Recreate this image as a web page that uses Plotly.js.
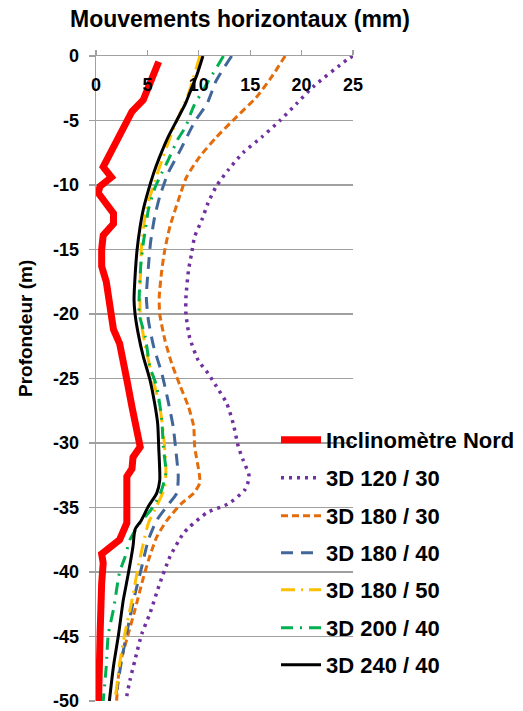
<!DOCTYPE html>
<html>
<head>
<meta charset="utf-8">
<script src="https://cdn.plot.ly/plotly-3.0.1.min.js"></script>
<style>html,body{margin:0;padding:0;background:#fff;}#chart{width:523px;height:711px;}</style>
</head>
<body>
<div id="chart"></div>
<script>
// Series names
const seriesNames = ["Inclinomètre Nord", "3D 120 / 30", "3D 180 / 30", "3D 180 / 40", "3D 180 / 50", "3D 200 / 40", "3D 240 / 40"];

// Inclinomètre Nord
const inclinoDepth = [-0.45,-1.9,-3.4,-4.3,-5.5,-6.8,-7.8,-8.6,-9.4,-10.1,-10.6,-11.4,-12.2,-13.0,-13.9,-15.0,-16.3,-17.5,-18.8,-21.2,-22.3,-23.3,-25.1,-27.2,-29.0,-30.3,-31.1,-32.0,-32.6,-34.2,-35.4,-36.2,-37.5,-38.2,-38.6,-39.3,-40.9,-44.8,-47.4,-50];
const inclinoMove  = [6.1,5.4,4.6,3.5,2.7,2.0,1.2,0.7,1.5,0.4,0.2,1.0,1.7,1.7,0.7,0.55,0.55,1.0,1.3,1.7,2.3,2.5,3.0,3.5,4.0,4.3,3.6,3.5,3.0,3.0,3.1,3.0,2.3,1.0,0.55,0.7,0.55,0.4,0.25,0.25];

// 3D 120 / 30
const d120_30 = [0,-0.3,-2.4,-3.7,-5.0,-6.3,-7.5,-8.8,-10.1,-11.4,-12.7,-14.0,-15.3,-16.6,-18.7,-20.0,-21.8,-23.6,-24.6,-25.6,-26.9,-28.5,-30.3,-31.3,-32.6,-33.6,-34.7,-35.4,-36.5,-37.0,-38.8,-40.9,-43.2,-44.8,-46.8,-48.4,-50];
const m120_30 = [25.0,24.4,21.1,19.5,17.9,16.1,14.3,12.9,11.7,10.9,10.3,9.6,9.3,9.0,8.75,8.75,9.1,9.95,10.9,11.7,12.7,13.35,13.85,14.3,14.9,14.5,12.9,10.8,9.1,8.5,7.2,6.2,5.25,4.45,3.8,3.3,2.9];

// 3D 180 / 30
const d180_30 = [0,-1.6,-3.2,-4.7,-6.3,-7.8,-9.4,-11.2,-13.2,-15.0,-16.6,-18.7,-20.0,-22.0,-23.8,-25.6,-27.2,-28.7,-30.3,-32.4,-33.1,-33.9,-34.7,-36.0,-37.3,-39.1,-40.9,-42.9,-45.2,-47.3,-50];
const m180_30 = [18.4,17.1,15.6,13.7,11.7,10.1,8.8,8.0,7.2,6.7,6.4,6.15,6.2,6.7,7.35,8.2,9.0,9.5,9.6,10.05,10.1,9.5,8.3,6.9,5.9,5.1,4.45,3.8,3.0,2.3,2.0];

// 3D 180 / 40
const d180_40 = [0,-1.9,-3.7,-5.1,-7.3,-9.1,-10.9,-12.5,-14.5,-16.3,-18.7,-20.5,-22.5,-24.6,-26.7,-28.7,-30.8,-32.6,-33.9,-34.9,-36.0,-37.5,-39.6,-41.7,-43.5,-46.8,-50];
const m180_40 = [13.2,11.7,10.8,9.6,8.2,7.0,6.2,5.7,5.3,5.1,4.9,5.1,5.6,6.4,7.0,7.5,7.8,8.0,7.85,6.9,5.9,5.1,4.45,3.8,3.3,2.5,1.85];

// 3D 180 / 50
const d180_50 = [0,-2.9,-5.7,-8.8,-11.9,-14.5,-17.6,-20.0,-22.5,-24.6,-27.2,-29.2,-31.8,-33.4,-34.9,-36.2,-37.8,-39.6,-42.2,-44.8,-47.1,-50];
const m180_50 = [10.1,9.0,7.5,6.1,4.9,4.45,4.3,4.3,4.8,5.4,6.2,6.55,6.8,6.7,5.9,5.1,4.6,4.1,3.5,2.8,2.3,1.85];

// 3D 200 / 40
const d200_40 = [0,-2.4,-3.9,-5.5,-6.4,-8.1,-9.4,-10.3,-11.9,-13.5,-14.5,-16.3,-18.7,-20.0,-21.8,-24.1,-25.6,-28.2,-30.3,-32.3,-33.6,-34.9,-36.2,-37.5,-38.9,-40.0,-42.9,-44.8,-47.3,-50];
const m200_40 = [12.4,10.6,9.5,8.7,8.0,7.0,6.2,5.7,5.1,4.8,4.6,4.35,4.2,4.2,4.8,5.25,5.9,6.4,6.55,6.8,6.4,5.6,4.3,3.3,2.8,2.3,1.7,1.2,1.0,0.7];

// 3D 240 / 40
const d240_40 = [0,-1.5,-2.9,-3.7,-5.0,-6.3,-7.8,-9.1,-10.4,-11.9,-13.2,-15.0,-17.1,-18.9,-20.0,-21.5,-23.3,-25.1,-26.9,-28.5,-30.3,-32.9,-33.9,-34.9,-36.0,-36.7,-38.0,-40.1,-42.2,-44.8,-47.3,-50];
const m240_40 = [10.4,9.8,9.1,8.7,7.85,7.0,6.2,5.6,5.1,4.6,4.3,4.0,3.8,3.7,3.8,4.1,4.6,5.25,5.7,6.0,6.1,6.2,5.9,5.1,4.4,3.8,3.6,3.15,2.65,2.2,1.7,1.3];

// Axis ticks
const xTickVals = [0,5,10,15,20,25];
const yTickVals = [0,-5,-10,-15,-20,-25,-30,-35,-40,-45,-50];

const series = [
  {x: inclinoMove, y: inclinoDepth, color: '#FF0000', width: 7, dash: 'solid', shape: 'linear'},
  {x: m120_30, y: d120_30, color: '#7030A0', width: 3.5, dash: '3px,5px', shape: 'spline'},
  {x: m180_30, y: d180_30, color: '#E46C0A', width: 3, dash: '7px,4px', shape: 'spline'},
  {x: m180_40, y: d180_40, color: '#41679A', width: 3, dash: '12px,8px', shape: 'spline'},
  {x: m180_50, y: d180_50, color: '#FFC000', width: 3, dash: '14px,6px,2px,6px', shape: 'spline'},
  {x: m200_40, y: d200_40, color: '#00B050', width: 3, dash: '12px,7px,2px,7px', shape: 'spline'},
  {x: m240_40, y: d240_40, color: '#000000', width: 3, dash: 'solid', shape: 'spline'}
];

const legendRowsPx = [440, 478, 516, 553, 590, 628, 665];
const plotTop = 56, plotBottom = 701, plotLeft = 96, plotRight = 353;
const FONT = 'Liberation Sans, Arial, sans-serif';

const traces = series.map((s, i) => ({
  type: 'scatter', mode: 'lines', name: seriesNames[i],
  x: s.x, y: s.y,
  line: {color: s.color, width: s.width, dash: s.dash, shape: s.shape, smoothing: 0.6},
  legend: i === 0 ? 'legend' : 'legend' + (i + 1),
  hoverinfo: 'skip'
}));
// invisible helper trace so that the label-only x axis (inside the plot) is drawn
traces.push({type: 'scatter', mode: 'none', x: [0, 25], y: [0, 0], xaxis: 'x2', yaxis: 'y', showlegend: false, hoverinfo: 'skip'});

const legendFont = {family: FONT, size: 22, color: '#000', weight: 'bold'};
const layout = {
  width: 523, height: 711,
  margin: {l: plotLeft, r: 523 - plotRight, t: plotTop, b: 711 - plotBottom, pad: 0, autoexpand: false},
  paper_bgcolor: '#fff', plot_bgcolor: '#fff',
  font: {family: FONT, color: '#000'},
  title: {
    text: '<b>Mouvements horizontaux (mm)</b>',
    font: {size: 23, family: FONT, color: '#000'},
    x: 240 / 523, xanchor: 'center', xref: 'container',
    y: 1 - 19 / 711, yanchor: 'middle', yref: 'container'
  },
  xaxis: {
    side: 'top', range: [0, 25], tickvals: xTickVals, showticklabels: false,
    ticks: 'outside', ticklen: 5, tickcolor: '#A0A0A0', tickwidth: 1.3,
    showline: true, linecolor: '#A0A0A0', linewidth: 1.3,
    showgrid: false, zeroline: false, fixedrange: true, automargin: false
  },
  xaxis2: {
    overlaying: 'x', matches: 'x', range: [0, 25], anchor: 'free',
    position: (plotBottom - 95) / (plotBottom - plotTop), side: 'top',
    tickvals: xTickVals, ticktext: xTickVals.map(v => '<b>' + v + '</b>'),
    ticks: '', showline: false, showgrid: false, zeroline: false, fixedrange: true,
    ticklabeloverflow: 'allow', automargin: false,
    tickfont: {size: 18, family: FONT, color: '#000'}
  },
  yaxis: {
    range: [-50, 0], tickvals: yTickVals, ticktext: yTickVals.map(v => '<b>' + v + '</b>'),
    ticks: 'outside', ticklen: 6, tickcolor: '#A0A0A0', tickwidth: 1.3,
    ticklabelstandoff: 6, ticklabeloverflow: 'allow', automargin: false,
    tickfont: {size: 18, family: FONT, color: '#000'},
    showline: true, linecolor: '#A0A0A0', linewidth: 1.3,
    showgrid: true, gridcolor: '#A0A0A0', gridwidth: 1.3,
    zeroline: false, fixedrange: true
  },
  annotations: [{
    text: '<b>Profondeur (m)</b>', textangle: -90,
    xref: 'paper', yref: 'paper',
    x: (26 - plotLeft) / (plotRight - plotLeft), y: (plotBottom - 329) / (plotBottom - plotTop),
    xanchor: 'center', yanchor: 'middle', showarrow: false,
    font: {size: 19, family: FONT, color: '#000'}
  }],
  showlegend: true
};

legendRowsPx.forEach((py, i) => {
  const key = i === 0 ? 'legend' : 'legend' + (i + 1);
  layout[key] = {
    x: (276 - plotLeft) / (plotRight - plotLeft), xanchor: 'left',
    y: (plotBottom - py) / (plotBottom - plotTop), yanchor: 'middle',
    bgcolor: 'rgba(0,0,0,0)', borderwidth: 0,
    font: legendFont, itemwidth: 40
  };
});

Plotly.newPlot('chart', traces, layout, {displayModeBar: false, staticPlot: true});
</script>
</body>
</html>
